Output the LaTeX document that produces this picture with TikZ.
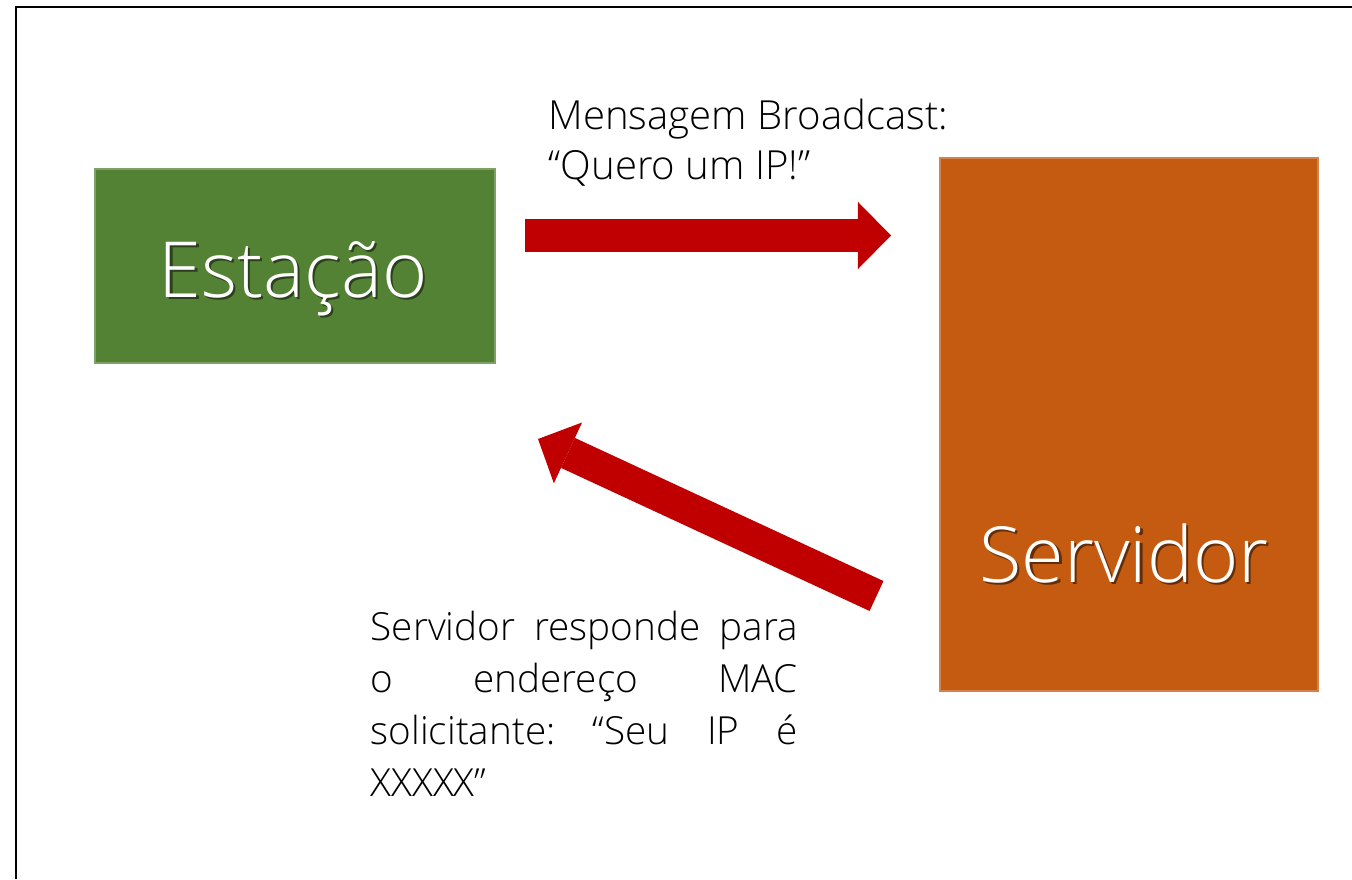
\documentclass[tikz,border=0pt]{standalone}
\usepackage{fontspec}
\setmainfont{Open Sans}[UprightFont=* Light]
\usetikzlibrary{arrows.meta,positioning,calc}

\definecolor{estacaogreen}{HTML}{548235}
\definecolor{servidororange}{HTML}{C55A11}
\definecolor{setared}{HTML}{C00000}

% white label with a dark drop shadow under it
\newcommand{\sombra}[2]{%
  \makebox[0pt][l]{\hspace{0.7pt}\raisebox{-0.7pt}{\textcolor{#1!50!black}{#2}}}\textcolor{white}{#2}}

\tikzset{
  caixa/.style={rectangle, draw=#1!75!white, line width=0.4pt, fill=#1, inner sep=0pt},
  rotulo/.style={font=\fontsize{22}{26}\selectfont, inner sep=0pt, anchor=base},
  seta/.style={draw=setared, line width=0.33cm,
    -{Triangle[length=0.33cm, width=0.67cm, line width=0pt]}},
  mensagem/.style={inner sep=0pt, align=left, anchor=north west},
}

\begin{document}
\begin{tikzpicture}[x=0.01cm, y=-0.01cm]
  \useasboundingbox (0,0) rectangle (1352,879);
  % frame (only top and left edges)
  \draw[line width=0.7pt] (16,879) -- (16,7) -- (1352,7);

  % the two boxes
  \node[caixa=estacaogreen, minimum width=4cm, minimum height=1.94cm] (estacao) at (295,266) {};
  \node[caixa=servidororange, minimum width=3.78cm, minimum height=5.33cm] (servidor) at (1129,424.5) {};
  \node[rotulo] (estacao-txt) at (293,297) {\sombra{estacaogreen}{Estação}};
  \node[rotulo] (servidor-txt) at (1124,582) {\sombra{servidororange}{Servidor}};

  % request and answer
  \coordinate (pedido-ini) at (525,235.5);
  \coordinate (pedido-fim) at (891,235.5);
  \coordinate (resposta-ini) at (876.5,596);
  \coordinate (resposta-fim) at (538,439);
  \draw[seta] (pedido-ini) -- (pedido-fim);
  \draw[seta] (resposta-ini) -- (resposta-fim);

  \node[mensagem, font=\fontsize{11.4}{14.2}\selectfont] (pedido) at (548,98)
    {Mensagem Broadcast:\\“Quero um IP!”};
  \node[mensagem, font=\fontsize{11}{14.8}\selectfont, text width=4.27cm] (resposta) at (370,610)
    {Servidor\hfill responde\hfill para\\
     o\hfill endereço\hfill MAC\\
     solicitante:\hfill “Seu\hfill IP\hfill é\\
     XXXXX”};
\end{tikzpicture}
\end{document}
